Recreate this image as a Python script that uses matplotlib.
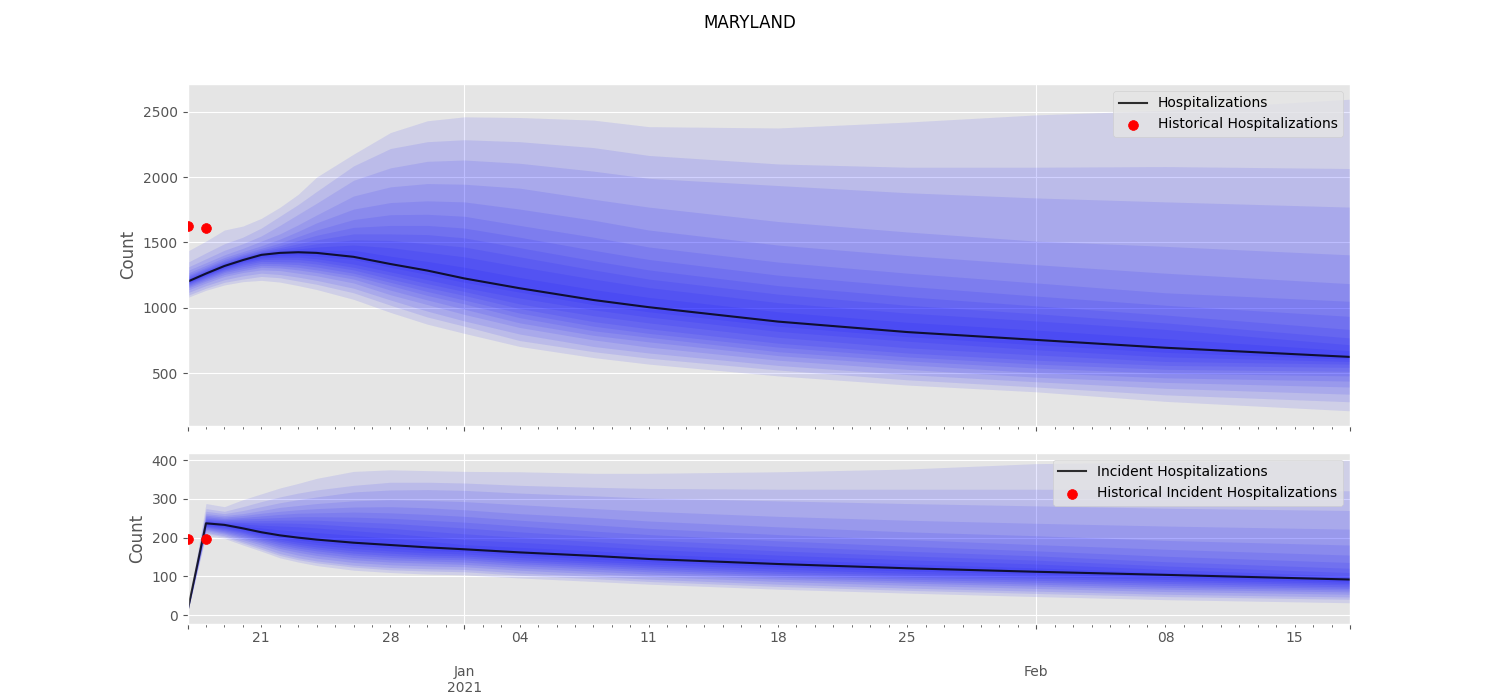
import matplotlib
matplotlib.use("Agg")
import matplotlib.pyplot as plt
import matplotlib.dates as mdates
import pandas as pd
from matplotlib.ticker import FixedLocator, FixedFormatter

plt.style.use("ggplot")

# ==========================================================
# DATA
# ==========================================================

dates = ["2020-12-17", "2020-12-18", "2020-12-19", "2020-12-20", "2020-12-21",
         "2020-12-22", "2020-12-23", "2020-12-24", "2020-12-26", "2020-12-28",
         "2020-12-30", "2021-01-01", "2021-01-04", "2021-01-08", "2021-01-11",
         "2021-01-18", "2021-01-25", "2021-02-01", "2021-02-08", "2021-02-18"]

hist_dates = ["2020-12-17", "2020-12-18"]
hist_hosp = [1625, 1610]
hist_inc = [197, 197]

# hospitalizations, quantiles
h_q99 = [1433, 1510, 1595, 1625, 1684, 1768, 1868, 2000, 2175, 2340, 2430, 2460, 2455, 2435, 2385, 2375, 2420, 2475, 2510, 2595]
h_q975 = [1347, 1420, 1490, 1540, 1610, 1700, 1790, 1890, 2085, 2218, 2270, 2285, 2270, 2225, 2165, 2100, 2075, 2075, 2080, 2065]
h_q95 = [1310, 1375, 1440, 1490, 1550, 1630, 1715, 1800, 1975, 2070, 2120, 2130, 2105, 2045, 1990, 1935, 1880, 1840, 1810, 1770]
h_q90 = [1285, 1345, 1405, 1455, 1510, 1565, 1635, 1710, 1855, 1925, 1950, 1945, 1915, 1830, 1770, 1660, 1580, 1510, 1470, 1405]
h_q85 = [1265, 1325, 1385, 1430, 1475, 1525, 1585, 1650, 1755, 1805, 1818, 1810, 1755, 1670, 1595, 1480, 1400, 1330, 1265, 1185]
h_q80 = [1250, 1310, 1370, 1415, 1455, 1495, 1545, 1595, 1675, 1712, 1715, 1700, 1630, 1540, 1465, 1350, 1265, 1190, 1115, 1050]
h_q75 = [1240, 1300, 1358, 1403, 1442, 1475, 1515, 1555, 1615, 1630, 1630, 1610, 1540, 1440, 1370, 1250, 1165, 1090, 1020, 935]
h_q70 = [1230, 1291, 1349, 1394, 1432, 1460, 1490, 1520, 1565, 1565, 1560, 1535, 1460, 1360, 1290, 1170, 1085, 1015, 945, 835]
h_q65 = [1220, 1283, 1340, 1385, 1423, 1448, 1468, 1490, 1520, 1515, 1490, 1465, 1390, 1290, 1220, 1105, 1020, 955, 885, 770]
h_q60 = [1212, 1275, 1333, 1378, 1415, 1435, 1450, 1465, 1480, 1460, 1425, 1390, 1315, 1220, 1155, 1040, 960, 900, 835, 718]
h_q55 = [1206, 1268, 1326, 1371, 1410, 1428, 1438, 1440, 1440, 1395, 1355, 1310, 1232, 1140, 1080, 970, 890, 830, 765, 672]
h_med = [1200, 1262, 1320, 1365, 1405, 1420, 1425, 1420, 1390, 1335, 1285, 1225, 1150, 1060, 1005, 895, 815, 755, 695, 625]
h_q45 = [1195, 1256, 1313, 1358, 1390, 1402, 1405, 1395, 1370, 1310, 1255, 1195, 1120, 1025, 970, 860, 780, 718, 660, 608]
h_q40 = [1190, 1250, 1306, 1350, 1380, 1388, 1388, 1375, 1335, 1275, 1215, 1155, 1075, 985, 930, 820, 745, 680, 625, 590]
h_q35 = [1185, 1244, 1299, 1340, 1368, 1372, 1370, 1355, 1310, 1250, 1185, 1125, 1030, 940, 885, 775, 695, 640, 590, 570]
h_q30 = [1178, 1236, 1290, 1328, 1355, 1353, 1350, 1335, 1290, 1220, 1155, 1095, 995, 895, 840, 730, 655, 600, 560, 545]
h_q25 = [1170, 1227, 1280, 1315, 1340, 1338, 1330, 1312, 1265, 1195, 1125, 1060, 960, 860, 805, 700, 625, 570, 530, 515]
h_q20 = [1160, 1217, 1270, 1300, 1325, 1322, 1310, 1290, 1245, 1170, 1095, 1030, 925, 825, 775, 665, 595, 540, 500, 480]
h_q15 = [1150, 1205, 1255, 1285, 1310, 1305, 1290, 1270, 1220, 1135, 1060, 990, 885, 790, 740, 635, 565, 505, 465, 440]
h_q10 = [1135, 1190, 1240, 1270, 1290, 1285, 1265, 1245, 1190, 1100, 1025, 950, 850, 755, 700, 600, 530, 470, 430, 395]
h_q05 = [1115, 1170, 1215, 1245, 1265, 1255, 1235, 1210, 1150, 1060, 975, 900, 800, 705, 655, 560, 490, 435, 385, 340]
h_q025 = [1095, 1150, 1195, 1220, 1240, 1230, 1205, 1180, 1115, 1020, 930, 860, 750, 665, 615, 525, 450, 395, 335, 282]
h_q01 = [1079, 1134, 1175, 1200, 1210, 1197, 1170, 1140, 1065, 965, 875, 805, 705, 620, 570, 480, 410, 358, 285, 213]

# incident hospitalizations, quantiles
i_q99 = [14, 288, 280, 298, 313, 328, 340, 353, 371, 375, 373, 371, 370, 366, 366, 370, 377, 391, 395, 400]
i_q975 = [14, 275, 268, 280, 293, 305, 315, 323, 335, 343, 343, 341, 335, 330, 327, 325, 325, 325, 323, 321]
i_q95 = [13, 268, 262, 270, 280, 290, 298, 305, 318, 323, 324, 322, 315, 308, 302, 295, 288, 282, 276, 270]
i_q90 = [13, 262, 257, 262, 270, 278, 283, 288, 295, 298, 296, 293, 285, 275, 268, 255, 245, 237, 230, 222]
i_q85 = [12, 258, 253, 257, 263, 268, 272, 275, 279, 280, 277, 272, 262, 252, 243, 228, 215, 205, 193, 181]
i_q80 = [12, 254, 249, 252, 256, 260, 263, 264, 266, 264, 260, 255, 245, 233, 224, 208, 195, 182, 170, 155]
i_q75 = [12, 250, 246, 248, 250, 252, 254, 254, 253, 250, 245, 240, 230, 217, 208, 192, 178, 166, 152, 136]
i_q70 = [11, 247, 243, 243, 244, 245, 245, 245, 241, 237, 231, 225, 215, 203, 194, 178, 165, 153, 138, 121]
i_q65 = [11, 244, 240, 239, 238, 238, 237, 235, 229, 224, 217, 210, 201, 190, 181, 166, 153, 142, 127, 110]
i_q60 = [11, 242, 237, 235, 232, 230, 228, 225, 218, 211, 203, 195, 188, 178, 170, 155, 143, 132, 118, 101]
i_q55 = [10, 240, 235, 230, 225, 220, 216, 213, 206, 198, 191, 182, 175, 166, 158, 144, 132, 122, 110, 96]
i_med = [10, 237, 233, 224, 214, 206, 200, 195, 187, 181, 175, 170, 162, 153, 145, 132, 121, 112, 104, 92]
i_q45 = [10, 235, 230, 221, 210, 201, 194, 188, 179, 173, 167, 164, 155, 145, 138, 125, 114, 106, 98, 86]
i_q40 = [9, 232, 227, 217, 206, 196, 188, 182, 172, 166, 161, 158, 149, 139, 132, 119, 108, 100, 92, 82]
i_q35 = [9, 230, 224, 214, 202, 191, 183, 176, 166, 160, 155, 153, 143, 134, 127, 113, 103, 95, 87, 78]
i_q30 = [9, 228, 221, 211, 198, 187, 178, 171, 160, 154, 150, 148, 138, 129, 122, 108, 98, 90, 82, 73]
i_q25 = [8, 226, 218, 207, 194, 182, 173, 166, 155, 149, 145, 143, 133, 124, 117, 103, 93, 85, 77, 69]
i_q20 = [8, 223, 215, 203, 190, 177, 168, 160, 149, 143, 140, 137, 128, 119, 112, 98, 88, 80, 72, 65]
i_q15 = [8, 221, 212, 199, 186, 172, 162, 154, 143, 137, 134, 131, 122, 113, 106, 93, 83, 75, 67, 60]
i_q10 = [7, 218, 209, 195, 181, 166, 155, 147, 136, 130, 127, 125, 116, 107, 100, 87, 77, 69, 61, 54]
i_q05 = [7, 214, 205, 190, 175, 159, 148, 140, 129, 123, 120, 118, 109, 100, 93, 80, 70, 62, 54, 47]
i_q025 = [6, 211, 202, 186, 170, 154, 143, 135, 124, 117, 114, 112, 103, 94, 87, 74, 64, 56, 48, 41]
i_q01 = [6, 206, 198, 181, 165, 148, 137, 128, 116, 110, 106, 104, 96, 87, 80, 67, 57, 48, 40, 32]

hosp_bands = [(h_q01, h_q99), (h_q025, h_q975), (h_q05, h_q95), (h_q10, h_q90),
              (h_q15, h_q85), (h_q20, h_q80), (h_q25, h_q75), (h_q30, h_q70),
              (h_q35, h_q65), (h_q40, h_q60), (h_q45, h_q55)]
inc_bands = [(i_q01, i_q99), (i_q025, i_q975), (i_q05, i_q95), (i_q10, i_q90),
             (i_q15, i_q85), (i_q20, i_q80), (i_q25, i_q75), (i_q30, i_q70),
             (i_q35, i_q65), (i_q40, i_q60), (i_q45, i_q55)]

x = pd.to_datetime(dates)
hist_x = pd.to_datetime(hist_dates)

# ==========================================================
# FIGURE
# ==========================================================

fig, (ax1, ax2) = plt.subplots(2, 1, figsize=(15, 7), sharex=True,
                               gridspec_kw={"height_ratios": [2, 1], "hspace": 0.105,
                                            "bottom": 0.109, "top": 0.88})
fig.suptitle("MARYLAND")

for ax, bands, med, hist, name, ylim in [
    (ax1, hosp_bands, h_med, hist_hosp, "Hospitalizations", (98, 2711)),
    (ax2, inc_bands, i_med, hist_inc, "Incident Hospitalizations", (-22, 419)),
]:
    for low, high in bands:
        ax.fill_between(x, low, high, color="blue", alpha=0.095, linewidth=0)
    ax.plot(x, med, color="k", alpha=0.8, label=name)
    ax.scatter(hist_x, hist, color="red", s=50, zorder=3, label="Historical " + name)
    ax.set_ylim(*ylim)
    ax.set_ylabel("Count")
    ax.legend(loc="upper right")

# ==========================================================
# X AXIS
# ==========================================================

start = pd.Timestamp("2020-12-17")
end = pd.Timestamp("2021-02-18")
ax2.set_xlim(start, end)

major = pd.to_datetime(["2020-12-17", "2021-01-01", "2021-02-01", "2021-02-18"])
major_labels = ["", "Jan\n2021", "Feb", ""]
# daily minor ticks, leaving out the days that already have a major tick
minor = [d for d in pd.date_range(start, end, freq="D") if d not in major]
minor_marked = ["2020-12-21", "2020-12-28", "2021-01-04", "2021-01-11",
                "2021-01-18", "2021-01-25", "2021-02-08", "2021-02-15"]
minor_labels = [d.strftime("%d") if d.strftime("%Y-%m-%d") in minor_marked else "" for d in minor]

ax2.xaxis.set_major_locator(FixedLocator(mdates.date2num(major)))
ax2.xaxis.set_major_formatter(FixedFormatter(major_labels))
ax2.xaxis.set_minor_locator(FixedLocator(mdates.date2num(minor)))
ax2.xaxis.set_minor_formatter(FixedFormatter(minor_labels))
ax2.tick_params(axis="x", which="major", pad=26)
ax1.tick_params(axis="x", which="both", labelbottom=False)

plt.savefig("out.png", dpi=100)
